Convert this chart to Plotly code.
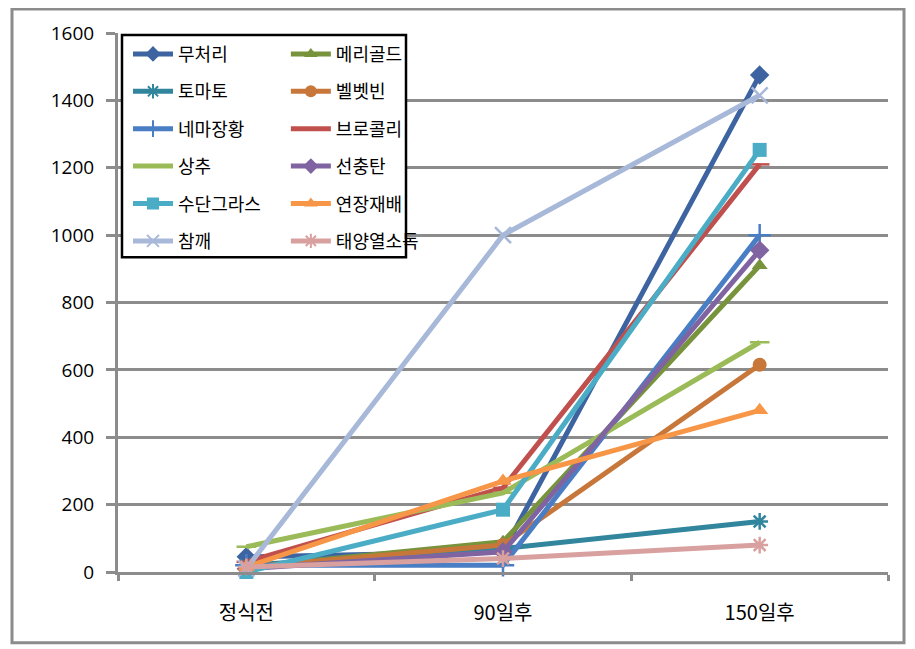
import plotly.graph_objects as go

categories = ["정식전", "90일후", "150일후"]

series_names = ["무처리", "메리골드", "토마토", "벨벳빈", "네마장황", "브로콜리",
                "상추", "선충탄", "수단그라스", "연장재배", "참깨", "태양열소독"]

v_muchori = [45, 60, 1475]
v_marigold = [15, 90, 910]
v_tomato = [20, 70, 150]
v_velvetbean = [15, 80, 615]
v_nemajanghwang = [20, 20, 1000]
v_broccoli = [30, 250, 1210]
v_sangchu = [75, 235, 682]
v_seonchungtan = [10, 60, 955]
v_sudangrass = [0, 185, 1253]
v_yeonjang = [15, 270, 480]
v_chamkkae = [10, 1000, 1415]
v_taeyang = [15, 40, 80]

series_values = [v_muchori, v_marigold, v_tomato, v_velvetbean, v_nemajanghwang,
                 v_broccoli, v_sangchu, v_seonchungtan, v_sudangrass, v_yeonjang,
                 v_chamkkae, v_taeyang]

colors = ["#3D64A0", "#77933C", "#31859C", "#C8773A", "#4A7EC4", "#C0504D",
          "#9BBB59", "#8064A2", "#4BACC6", "#F79646", "#A7B8D9", "#D9A0A0"]

symbols = ["diamond", "triangle-up", "asterisk-open", "circle", "cross-thin-open",
           "line-ew-open", "line-ew-open", "diamond", "square", "triangle-up",
           "x-thin-open", "asterisk-open"]

msizes = [15, 14, 14, 14, 16, 14, 14, 15, 14, 15, 16, 14]

# legend assignment: column 1 / column 2 (row-wise order as in reference)
legend_ids = ["legend", "legend2"] * 6

fig = go.Figure()
for i, name in enumerate(series_names):
    sym = symbols[i]
    openish = sym.endswith("-open")
    fig.add_trace(go.Scatter(
        x=categories, y=series_values[i], name=name, mode="lines+markers",
        line=dict(color=colors[i], width=5),
        marker=dict(symbol=sym, size=msizes[i], color=colors[i],
                    line=dict(color=colors[i], width=2.5 if openish else 0)),
        legend=legend_ids[i], legendgroup=name, cliponaxis=False,
    ))

# page body has an 8px margin, so the figure is drawn 8px right/down
W, H = 907, 641
legend_font = dict(family="Noto Sans CJK KR", size=18, color="black")
fig.update_layout(
    width=W, height=H,
    margin=dict(l=110, r=W - 880, t=23, b=H - 564),
    paper_bgcolor="white", plot_bgcolor="white",
    font=dict(family="Open Sans", color="black"),
    legend=dict(x=0.013, y=0.995, xanchor="left", yanchor="top", font=legend_font,
                bgcolor="rgba(0,0,0,0)", tracegroupgap=11, itemwidth=40,
                itemsizing="constant"),
    legend2=dict(x=0.218, y=0.995, xanchor="left", yanchor="top", font=legend_font,
                 bgcolor="rgba(0,0,0,0)", tracegroupgap=11, itemwidth=40,
                 itemsizing="constant"),
    showlegend=True,
)

fig.update_xaxes(
    type="category", range=[-0.5, 2.5], tickson="boundaries",
    ticks="outside", ticklen=6, tickwidth=2.5, tickcolor="#8C8C8C",
    showline=True, linecolor="#8C8C8C", linewidth=3, showgrid=False,
    tickfont=dict(family="Noto Sans CJK KR", size=20, color="black"),
    ticklabelstandoff=21,
)
fig.update_yaxes(
    range=[0, 1600], dtick=200, ticks="outside", ticklen=9, tickwidth=2.5,
    tickcolor="#8C8C8C", showline=True, linecolor="#8C8C8C", linewidth=3,
    showgrid=True, gridcolor="#8C8C8C", gridwidth=3, zeroline=False,
    tickfont=dict(family="Open Sans", size=19, color="black"),
    ticklabelstandoff=8,
)

# outer chart frame (plot area spans 118..888 x 31..572 on the page)
fig.add_shape(type="rect", xref="paper", yref="paper",
              x0=(12 - 118) / 770, x1=(904 - 118) / 770,
              y0=(572 - 643) / 541, y1=(572 - 7) / 541,
              line=dict(color="#8C8C8C", width=3), layer="below")
# legend frame
fig.add_shape(type="rect", xref="paper", yref="paper",
              x0=(122 - 118) / 770, x1=(406 - 118) / 770,
              y0=(572 - 256) / 541, y1=(572 - 33) / 541,
              line=dict(color="black", width=2.5), fillcolor="white", layer="above")

fig.write_html("out.html")
